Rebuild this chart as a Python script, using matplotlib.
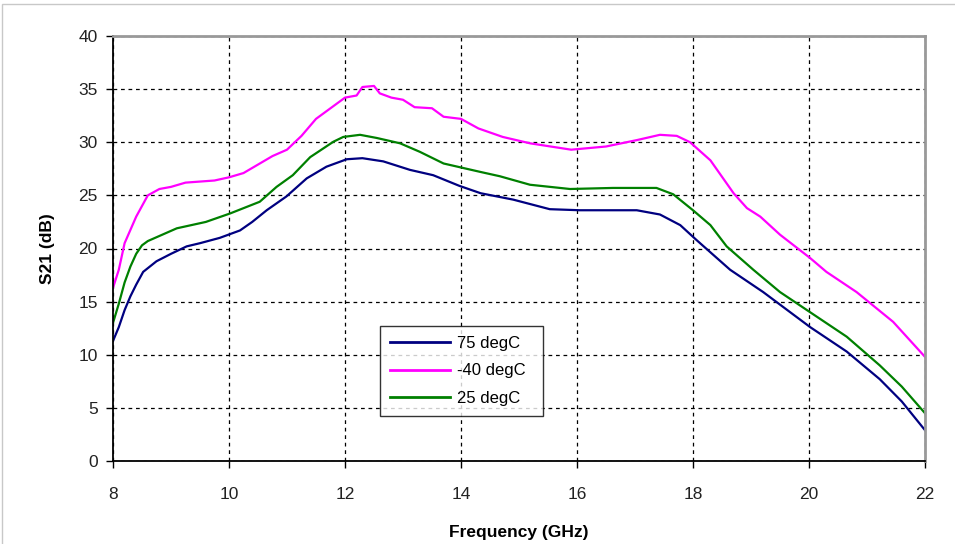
import matplotlib.pyplot as plt
from matplotlib.patches import Rectangle

plt.rcParams['font.family'] = ['Liberation Sans', 'DejaVu Sans']

# frequency (GHz) and S21 (dB)
freq_75 = [8.0, 8.1, 8.2, 8.3, 8.4, 8.52, 8.75, 9.0, 9.27, 9.5, 9.84, 10.19, 10.4,
           10.65, 10.99, 11.34, 11.68, 12.03, 12.3, 12.66, 13.12, 13.52, 13.97,
           14.34, 14.9, 15.53, 16.05, 17.03, 17.43, 17.78, 18.06, 18.64, 19.21,
           20.02, 20.65, 21.22, 21.6, 22.0]
s21_75 = [11.3, 12.6, 14.2, 15.5, 16.6, 17.8, 18.8, 19.5, 20.2, 20.5, 21.0, 21.7, 22.5,
          23.6, 24.9, 26.6, 27.7, 28.4, 28.5, 28.2, 27.4, 26.9, 25.9,
          25.2, 24.6, 23.7, 23.6, 23.6, 23.2, 22.2, 20.8, 18.0, 15.9,
          12.6, 10.3, 7.7, 5.6, 2.9]

freq_m40 = [8.0, 8.1, 8.2, 8.4, 8.6, 8.8, 9.0, 9.25, 9.5, 9.75, 10.0, 10.25, 10.5,
            10.75, 11.0, 11.25, 11.5, 11.75, 12.0, 12.2, 12.3, 12.5, 12.6, 12.8,
            13.0, 13.2, 13.5, 13.7, 14.0, 14.3, 14.72, 15.19, 15.9, 16.5, 17.03,
            17.43, 17.72, 17.95, 18.3, 18.7, 18.93, 19.16, 19.5, 20.02, 20.3,
            20.82, 21.45, 22.0]
s21_m40 = [16.3, 18.0, 20.5, 23.0, 25.0, 25.6, 25.8, 26.2, 26.3, 26.4, 26.7, 27.1, 27.9,
           28.7, 29.3, 30.6, 32.2, 33.2, 34.2, 34.4, 35.2, 35.3, 34.6, 34.2,
           34.0, 33.3, 33.2, 32.4, 32.2, 31.3, 30.5, 29.9, 29.3, 29.6, 30.2,
           30.7, 30.6, 30.0, 28.3, 25.2, 23.8, 23.0, 21.3, 19.1, 17.8,
           15.9, 13.1, 9.8]

freq_25 = [8.0, 8.1, 8.2, 8.3, 8.4, 8.5, 8.6, 9.1, 9.6, 10.02, 10.53, 10.82, 11.1, 11.4,
           11.8, 11.97, 12.26, 12.55, 12.95, 13.29, 13.7, 14.34, 14.67, 15.19, 15.88,
           16.62, 17.37, 17.66, 18.0, 18.3, 18.58, 19.04, 19.5, 20.02, 20.65, 21.22,
           21.6, 22.0]
s21_25 = [13.0, 14.8, 16.8, 18.3, 19.5, 20.3, 20.7, 21.9, 22.5, 23.3, 24.4, 25.8, 26.9,
          28.6, 30.05, 30.5, 30.7, 30.4, 29.9, 29.1, 28.0, 27.2, 26.8, 26.0, 25.6,
          25.7, 25.7, 25.1, 23.6, 22.2, 20.2, 18.0, 15.9, 14.0, 11.7, 9.0,
          7.0, 4.5]

fig = plt.figure(figsize=(9.55, 5.44), dpi=100)
fig.patches.append(Rectangle((2 / 955, -0.1), 1.2, 1.1 - 4 / 544,
                             transform=fig.transFigure, fill=False,
                             edgecolor='#c8c8c8', linewidth=1))
ax = fig.add_axes([113 / 955, 1 - 461 / 544, 812 / 955, 425 / 544])

ax.plot(freq_75, s21_75, color='#000080', lw=1.6, label='75 degC')
ax.plot(freq_m40, s21_m40, color='#ff00ff', lw=1.6, label='-40 degC')
ax.plot(freq_25, s21_25, color='#008000', lw=1.6, label='25 degC')

ax.set_xlim(8, 22)
ax.set_ylim(0, 40)
ax.set_xticks(range(8, 23, 2))
ax.set_yticks(range(0, 41, 5))
ax.grid(True, color='black', linestyle=(0, (3, 3)), linewidth=0.9)
ax.tick_params(direction='out', length=5, width=1, labelsize=12.5,
               colors='black', pad=6)
ax.tick_params(axis='x', pad=14)
for lbl in ax.get_xticklabels() + ax.get_yticklabels():
    lbl.set_color('#222222')

ax.spines['left'].set_color('black')
ax.spines['bottom'].set_color('black')
ax.spines['left'].set_linewidth(1.3)
ax.spines['bottom'].set_linewidth(1.3)
ax.spines['top'].set_color('#999999')
ax.spines['right'].set_color('#999999')
ax.spines['top'].set_linewidth(2)
ax.spines['right'].set_linewidth(2)

ax.set_xlabel('Frequency (GHz)', fontsize=12.5, fontweight='bold', labelpad=16)
ax.set_ylabel('S21 (dB)', fontsize=12.5, fontweight='bold', labelpad=17)

leg = ax.legend(loc='lower left', bbox_to_anchor=((380 - 113) / 812, (461 - 416) / 425,
                                                  163 / 812, 114 / 425),
                mode='expand', fontsize=12, frameon=True, fancybox=False,
                edgecolor='black', handlelength=3.6, handletextpad=0.4,
                borderpad=0.6, labelspacing=0.75, borderaxespad=0)
leg.get_frame().set_linewidth(1)
for line in leg.get_lines():
    line.set_linewidth(2)

fig.savefig('out.png', dpi=100)
